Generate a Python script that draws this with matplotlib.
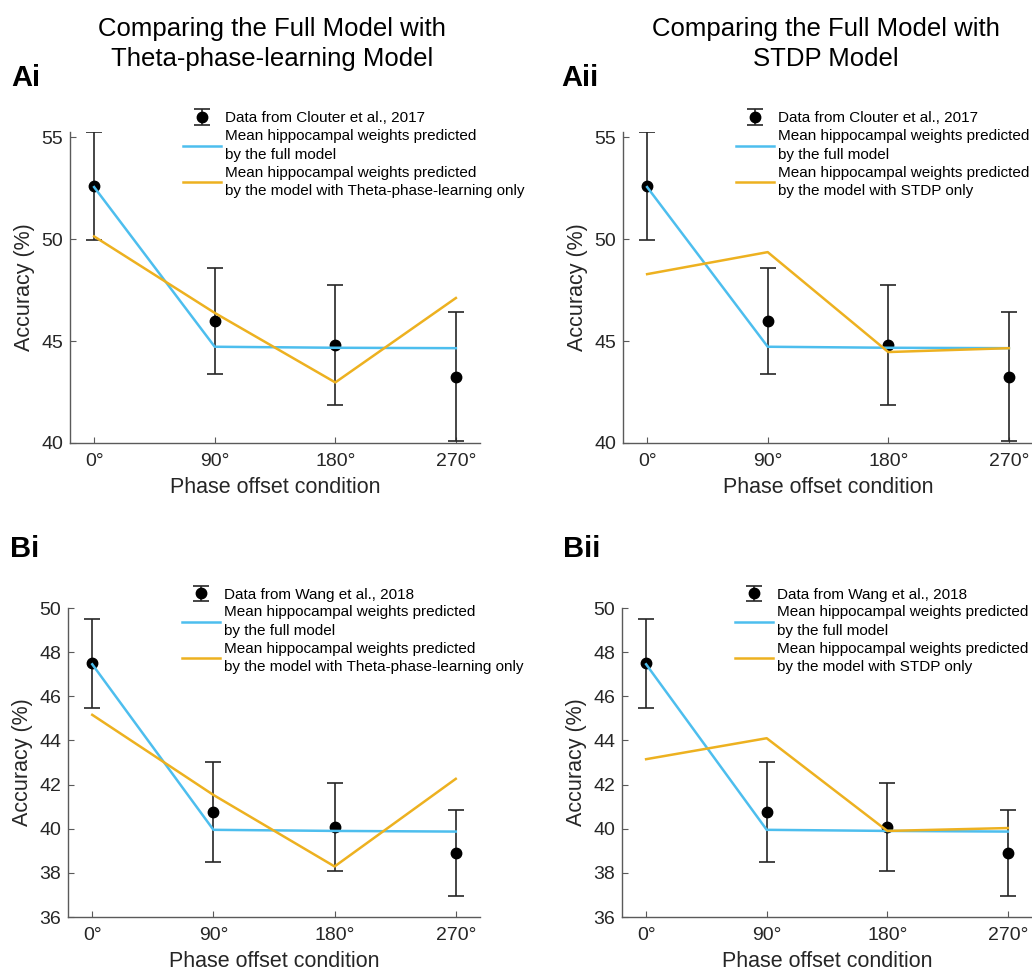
import matplotlib
matplotlib.use("Agg")
import matplotlib.pyplot as plt

plt.rcParams['font.family'] = ['Liberation Sans', 'DejaVu Sans']

# ---- data ----
phase_labels = ['0°', '90°', '180°', '270°']
conditions = [1, 2, 3, 4]

clouter_mean = [52.6, 46.0, 44.8, 43.25]
clouter_err = [2.65, 2.6, 2.93, 3.15]
full_A = [52.55, 44.72, 44.67, 44.65]
theta_A = [50.13, 46.38, 42.97, 47.11]
stdp_A = [48.28, 49.36, 44.46, 44.65]

wang_mean = [47.5, 40.75, 40.07, 38.88]
wang_err = [2.02, 2.27, 1.99, 1.95]
full_B = [47.45, 39.95, 39.9, 39.87]
theta_B = [45.16, 41.53, 38.29, 42.26]
stdp_B = [43.15, 44.1, 39.9, 40.03]

yticks_A = [40, 45, 50, 55]
yticks_B = [36, 38, 40, 42, 44, 46, 48, 50]

BLUE = '#4DBEEE'
ORANGE = '#EDB120'
TXT = '#262626'
AXC = '#5a5a5a'

W, H = 1032, 973
fig = plt.figure(figsize=(W / 100, H / 100), dpi=100)


def px_axes(left, top, right, bottom):
    return fig.add_axes([left / W, 1 - bottom / H, (right - left) / W, (bottom - top) / H])


def draw(ax, mean, err, full, other, data_label, other_label, ylim, yticks):
    eb = ax.errorbar(conditions, mean, yerr=err, fmt='o', color='black', ecolor=TXT,
                     markersize=7.5, elinewidth=1.2, capsize=5.5, capthick=1.2, zorder=2,
                     label=data_label)
    l1, = ax.plot(conditions, full, color=BLUE, lw=1.8, zorder=3,
                  label='Mean hippocampal weights predicted\nby the full model')
    l2, = ax.plot(conditions, other, color=ORANGE, lw=1.8, zorder=3,
                  label='Mean hippocampal weights predicted\n' + other_label)
    ax.set_xlim(0.8, 4.2)
    ax.set_ylim(*ylim)
    ax.set_xticks(conditions)
    ax.set_xticklabels(phase_labels)
    ax.set_yticks(yticks)
    for s in ['top', 'right']:
        ax.spines[s].set_visible(False)
    for s in ['left', 'bottom']:
        ax.spines[s].set_color(AXC)
        ax.spines[s].set_linewidth(1.0)
    ax.tick_params(direction='in', length=4, width=0.8, color=AXC,
                   labelsize=14, labelcolor=TXT)
    ax.tick_params(axis='x', pad=7)
    ax.tick_params(axis='y', pad=5)
    ax.set_xlabel('Phase offset condition', fontsize=15.5, color=TXT, labelpad=5)
    ax.set_ylabel('Accuracy (%)', fontsize=15.5, color=TXT)
    ax.yaxis.set_label_coords(-0.085, 0.5)
    leg = ax.legend(handles=[eb, l1, l2], loc='upper left', bbox_to_anchor=(0.276, 1.066),
                    frameon=False, fontsize=11, borderpad=0, borderaxespad=0,
                    labelspacing=0.25, handlelength=2.5, handletextpad=0.25)
    for t in leg.get_texts():
        t.set_color('black')
        t.set_linespacing(1.42)


axAi = px_axes(70, 132, 480, 443)
axAii = px_axes(623, 132, 1033, 443)
axBi = px_axes(68, 608, 480, 917)
axBii = px_axes(622, 608, 1032, 917)

draw(axAi, clouter_mean, clouter_err, full_A, theta_A, 'Data from Clouter et al., 2017',
     'by the model with Theta-phase-learning only', (40, 55.25), yticks_A)
draw(axAii, clouter_mean, clouter_err, full_A, stdp_A, 'Data from Clouter et al., 2017',
     'by the model with STDP only', (40, 55.25), yticks_A)
draw(axBi, wang_mean, wang_err, full_B, theta_B, 'Data from Wang et al., 2018',
     'by the model with Theta-phase-learning only', (36, 50), yticks_B)
draw(axBii, wang_mean, wang_err, full_B, stdp_B, 'Data from Wang et al., 2018',
     'by the model with STDP only', (36, 50), yticks_B)

fig.text(272 / W, 1 - 17 / H, 'Comparing the Full Model with\nTheta-phase-learning Model',
         ha='center', va='top', fontsize=18.5, color='black', linespacing=1.3)
fig.text(826 / W, 1 - 17 / H, 'Comparing the Full Model with\nSTDP Model',
         ha='center', va='top', fontsize=18.5, color='black', linespacing=1.3)

for lab, x, y in [('Ai', 11, 78), ('Aii', 561, 78), ('Bi', 10, 549), ('Bii', 563, 549)]:
    fig.text(x / W, 1 - y / H, lab, ha='left', va='center', fontsize=21,
             fontweight='bold', color='black')

fig.savefig('out.png', dpi=100, facecolor='white')
